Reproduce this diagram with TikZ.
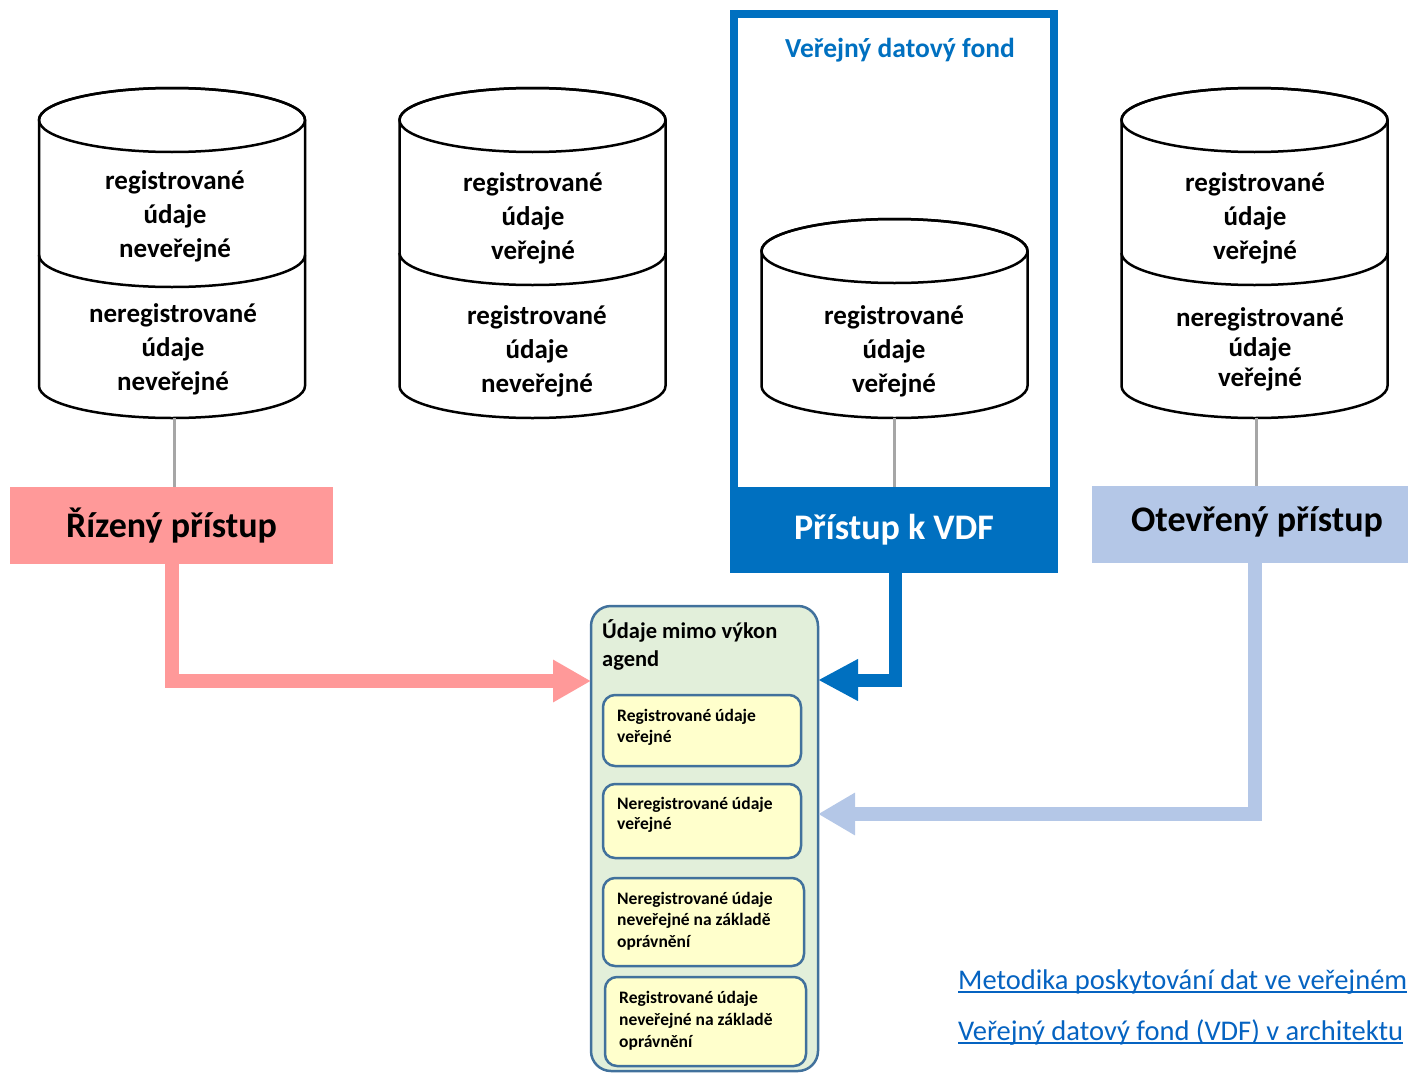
\documentclass[tikz,border=0pt]{standalone}
\usepackage{fontspec}
\setmainfont{Carlito}
\usetikzlibrary{arrows.meta}
\definecolor{vdfblue}{HTML}{0070C0}
\definecolor{ctrlred}{HTML}{FF9999}
\definecolor{openblue}{HTML}{B4C7E7}
\definecolor{conngray}{HTML}{A6A6A6}
\definecolor{agfill}{HTML}{E2EFDA}
\definecolor{agdraw}{HTML}{41719C}
\definecolor{itemfill}{HTML}{FFFFCC}
\definecolor{linkblue}{HTML}{0563C1}
% #1 centre x, #2 top ellipse centre y, #3 bottom y
\newcommand\dbcylbody[3]{%
  \filldraw[cylline,fill=white] (#1-133,#2) -- (#1-133,#3)
    arc[start angle=180,end angle=360,x radius=133pt,y radius=32pt]
    -- (#1+133,#2)
    arc[start angle=0,end angle=180,x radius=133pt,y radius=32pt] -- cycle;
  \draw[cylline] (#1,#2) ellipse[x radius=133pt,y radius=32pt];}
\newcommand\dbcyldiv[2]{%
  \draw[cylline] (#1-133,#2)
    arc[start angle=180,end angle=360,x radius=133pt,y radius=32pt];}
\begin{document}
\begin{tikzpicture}[x=1pt,y=1pt,
  cylline/.style={line width=2.5pt,black},
  cyltext/.style={align=center,inner sep=0pt,font=\bfseries\fontsize{27}{34}\selectfont},
  cylspan/.style={inner sep=0pt,minimum width=266pt,minimum height=332pt},
  gline/.style={conngray,line width=3pt},
  accbox/.style={inner sep=0pt,font=\bfseries\fontsize{36}{40}\selectfont},
  agbox/.style={draw=agdraw,fill=agfill,line width=2.5pt,rounded corners=20pt,inner sep=0pt},
  itembox/.style={draw=agdraw,fill=itemfill,line width=2.5pt,rounded corners=12pt,inner sep=0pt},
  itemtext/.style={anchor=base west,align=left,inner sep=0pt,font=\bfseries\fontsize{17.5}{21.5}\selectfont},
  linktext/.style={anchor=base west,inner sep=0pt,text=linkblue,font=\fontsize{28.5}{33}\selectfont},
]
\useasboundingbox (0,0) rectangle (1408,-1073);
\clip (0,0) rectangle (1408,-1073);

% ---------- VDF frame ----------
\node[draw=vdfblue,line width=8pt,minimum width=320pt,minimum height=555pt,inner sep=0pt] (vdf) at (894,-291.5) {};
\node[inner sep=0pt,text=vdfblue,font=\bfseries\fontsize{27.5}{33}\selectfont] (vdftitle) at (900,-50) {Veřejný datový fond};

% ---------- cylinders ----------
\dbcylbody{172}{-120}{-386}
\dbcyldiv{172}{-255}
\node[cylspan] (cylL) at (172,-252) {};
\node[cyltext] (cylLa) at (175,-216.5) {registrované\\údaje\\neveřejné};
\node[cyltext] (cylLb) at (173,-349.5) {neregistrované\\údaje\\neveřejné};

\dbcylbody{532.5}{-120}{-386}
\dbcyldiv{532.5}{-253}
\node[cylspan] (cylM) at (532.5,-252) {};
\node[cyltext] (cylMa) at (533,-218.5) {registrované\\údaje\\veřejné};
\node[cyltext] (cylMb) at (537,-351.5) {registrované\\údaje\\neveřejné};

\dbcylbody{894.5}{-251}{-386}
\node[inner sep=0pt,minimum width=266pt,minimum height=199pt] (cylV) at (894.5,-318.5) {};
\node[cyltext] (cylVa) at (894,-351.5) {registrované\\údaje\\veřejné};

\dbcylbody{1254.5}{-120}{-386}
\dbcyldiv{1254.5}{-253}
\node[cylspan] (cylR) at (1254.5,-252) {};
\node[cyltext] (cylRa) at (1255,-218.5) {registrované\\údaje\\veřejné};
\node[cyltext,font=\bfseries\fontsize{27}{30}\selectfont] (cylRb) at (1260,-349) {neregistrované\\údaje\\veřejné};

% ---------- access boxes ----------
\node[accbox,fill=ctrlred,minimum width=323pt,minimum height=77pt] (rizeny) at (171.5,-525.5) {Řízený přístup};
\node[accbox,fill=vdfblue,text=white,minimum width=328pt,minimum height=86pt] (vdfacc) at (894,-530) {Přístup k VDF};
\node[accbox,fill=openblue,minimum width=330pt,minimum height=77pt,text depth=10pt] (open) at (1257,-524.5) {Otevřený přístup};

% ---------- gray connectors ----------
\draw[gline] ([xshift=2pt]cylL.south) -- ([xshift=2.5pt]rizeny.north);
\draw[gline] (cylV.south) -- (cylV.south |- vdfacc.north);
\draw[gline] ([xshift=1.5pt]cylR.south) -- ([xshift=-1pt]open.north);

% ---------- agenda box ----------
\node[agbox,minimum width=227pt,minimum height=465pt] (agenda) at (704.5,-838.5) {};
\node[anchor=base west,align=left,inner sep=0pt,font=\bfseries\fontsize{22.5}{28}\selectfont] (agtitle) at (602,-666) {Údaje mimo výkon\\agend};

\node[itembox,minimum width=198pt,minimum height=71pt] (it1) at (702,-730.5) {};
\node[itemtext] (it1t) at (617,-742.5) {Registrované údaje\\veřejné};
\node[itembox,minimum width=198pt,minimum height=74pt] (it2) at (702,-821) {};
\node[itemtext,font=\bfseries\fontsize{17.5}{19.5}\selectfont] (it2t) at (617,-829) {Neregistrované údaje\\veřejné};
\node[itembox,minimum width=201pt,minimum height=88pt] (it3) at (703.5,-922) {};
\node[itemtext] (it3t) at (617,-947) {Neregistrované údaje\\neveřejné na základě\\oprávnění};
\node[itembox,minimum width=201pt,minimum height=89pt] (it4) at (705.5,-1021.5) {};
\node[itemtext,font=\bfseries\fontsize{17.5}{22}\selectfont] (it4t) at (619,-1047) {Registrované údaje\\neveřejné na základě\\oprávnění};

% ---------- big arrows ----------
\coordinate (redin) at (591,-681);
\coordinate (bluein) at (818,-680);
\coordinate (openin) at (818,-814);
\draw[ctrlred,line width=14pt,-{Triangle[length=38pt,width=40pt]}] ([xshift=0.5pt]rizeny.south) |- (redin);
\draw[vdfblue,line width=13pt,-{Triangle[length=40pt,width=39pt]}] ([xshift=1pt]vdfacc.south) |- (bluein);
\draw[openblue,line width=14pt,-{Triangle[length=37pt,width=40pt]}] ([xshift=-2pt]open.south) |- (openin);

% ---------- links ----------
\node[linktext] (link1) at (958,-989) {Metodika poskytování dat ve veřejném};
\draw[linkblue,line width=1.8pt] ([yshift=-3pt]link1.base west) -- ([yshift=-3pt]link1.base east);
\node[linktext] (link2) at (958,-1040) {Veřejný datový fond (VDF) v architektu};
\draw[linkblue,line width=1.8pt] ([yshift=-3pt]link2.base west) -- ([yshift=-3pt]link2.base east);
\end{tikzpicture}
\end{document}
